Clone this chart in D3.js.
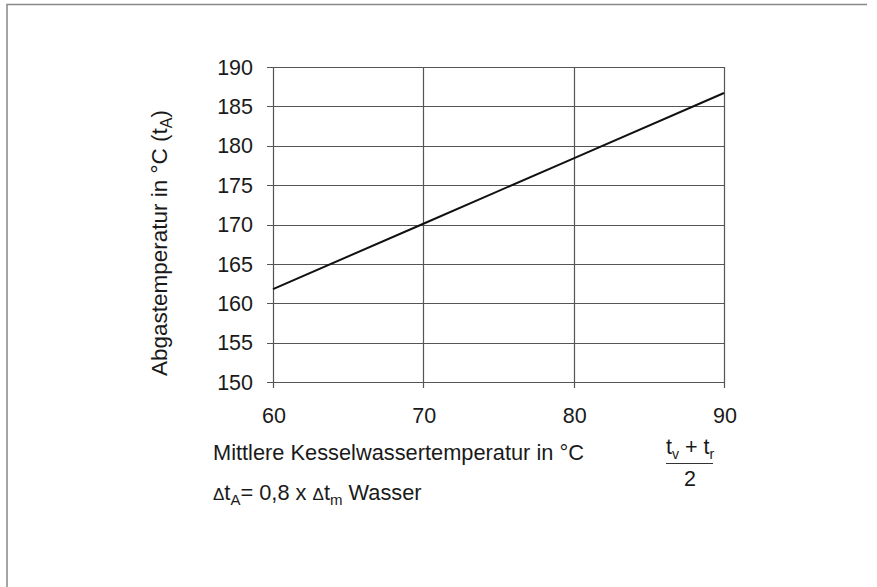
<!DOCTYPE html>
<html>
<head>
<meta charset="utf-8">
<script src="https://cdn.jsdelivr.net/npm/d3@7"></script>
<style>
  body { margin: 0; background: #fff; }
  svg { display: block; font-family: "Liberation Sans", Arial, sans-serif; }
</style>
</head>
<body>
<div id="chart"></div>
<script>
// data
var kesselTemp = [60, 70, 80, 90];
var abgasTemp = [161.8, 170.1, 178.4, 186.7];
var xTicks = [60, 70, 80, 90];
var yTicks = [150, 155, 160, 165, 170, 175, 180, 185, 190];

var W = 877, H = 587;
var pLeft = 273, pTop = 67, pRight = 724, pBottom = 382;

var svg = d3.select("#chart").append("svg")
    .attr("width", W)
    .attr("height", H);

// outer frame (only left and top edges show)
svg.append("path")
    .attr("d", "M7,600 L7,4.5 L867,4.5")
    .attr("fill", "none")
    .attr("stroke", "#888")
    .attr("stroke-width", 1.5);

var x = d3.scaleLinear().domain([60, 90]).range([pLeft, pRight]);
var y = d3.scaleLinear().domain([150, 190]).range([pBottom, pTop]);

// grid
svg.append("g").selectAll("line")
    .data(yTicks)
    .enter().append("line")
    .attr("x1", pLeft - 6)
    .attr("x2", pRight)
    .attr("y1", function (d) { return Math.round(y(d)) + 0.5; })
    .attr("y2", function (d) { return Math.round(y(d)) + 0.5; })
    .attr("stroke", "#555")
    .attr("stroke-width", 1.2);

svg.append("g").selectAll("line")
    .data(xTicks)
    .enter().append("line")
    .attr("x1", function (d) { return Math.round(x(d)) + 0.5; })
    .attr("x2", function (d) { return Math.round(x(d)) + 0.5; })
    .attr("y1", pTop)
    .attr("y2", pBottom + 6)
    .attr("stroke", "#555")
    .attr("stroke-width", 1.2);

// tick labels
svg.append("g").selectAll("text")
    .data(yTicks)
    .enter().append("text")
    .attr("x", pLeft - 20)
    .attr("y", function (d) { return y(d); })
    .attr("dy", "0.36em")
    .attr("text-anchor", "end")
    .attr("font-size", 21.5)
    .attr("fill", "#1a1a1a")
    .text(function (d) { return d; });

svg.append("g").selectAll("text")
    .data(xTicks)
    .enter().append("text")
    .attr("x", function (d) { return x(d) + 1; })
    .attr("y", pBottom + 41)
    .attr("text-anchor", "middle")
    .attr("font-size", 21.5)
    .attr("fill", "#1a1a1a")
    .text(function (d) { return d; });

// the line
var line = d3.line()
    .x(function (d, i) { return x(kesselTemp[i]); })
    .y(function (d) { return y(d); });

svg.append("path")
    .attr("d", line(abgasTemp))
    .attr("fill", "none")
    .attr("stroke", "#111")
    .attr("stroke-width", 2);

// y axis title
var yt = svg.append("text")
    .attr("transform", "translate(167,243) rotate(-90)")
    .attr("text-anchor", "middle")
    .attr("font-size", 22.5)
    .attr("fill", "#1a1a1a");
yt.append("tspan").text("Abgastemperatur in °C (t");
yt.append("tspan").attr("font-size", 16).attr("dy", 5).text("A");
yt.append("tspan").attr("dy", -5).text(")");

// x axis title and formula
svg.append("text")
    .attr("x", 213)
    .attr("y", 460)
    .attr("font-size", 21.8)
    .attr("fill", "#1a1a1a")
    .text("Mittlere Kesselwassertemperatur in °C");

var num = svg.append("text")
    .attr("x", 690)
    .attr("y", 454)
    .attr("text-anchor", "middle")
    .attr("font-size", 21.5)
    .attr("fill", "#1a1a1a");
num.append("tspan").text("t");
num.append("tspan").attr("font-size", 14).attr("dy", 5).text("v");
num.append("tspan").attr("dy", -5).text(" + t");
num.append("tspan").attr("font-size", 14).attr("dy", 5).text("r");

svg.append("line")
    .attr("x1", 666).attr("x2", 713)
    .attr("y1", 463.5).attr("y2", 463.5)
    .attr("stroke", "#333")
    .attr("stroke-width", 1);

svg.append("text")
    .attr("x", 690)
    .attr("y", 486)
    .attr("text-anchor", "middle")
    .attr("font-size", 21.5)
    .attr("fill", "#1a1a1a")
    .text("2");

var dt = svg.append("text")
    .attr("x", 213)
    .attr("y", 500)
    .attr("font-size", 21.8)
    .attr("fill", "#1a1a1a");
dt.append("tspan").attr("font-size", 17).text("Δ");
dt.append("tspan").text("t");
dt.append("tspan").attr("font-size", 15).attr("dy", 5).text("A");
dt.append("tspan").attr("dy", -5).text("= 0,8 x ");
dt.append("tspan").attr("font-size", 17).text("Δ");
dt.append("tspan").text("t");
dt.append("tspan").attr("font-size", 15).attr("dy", 5).text("m");
dt.append("tspan").attr("dy", -5).text(" Wasser");
</script>
</body>
</html>
